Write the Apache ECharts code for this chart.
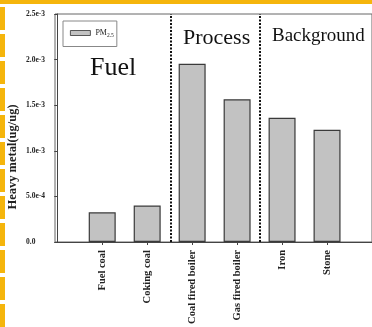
<!DOCTYPE html>
<html>
<head>
<meta charset="utf-8">
<script src="https://cdn.jsdelivr.net/npm/echarts@6/dist/echarts.min.js"></script>
<style>
  html, body { margin: 0; padding: 0; background: #fff; }
  #chart { width: 372px; height: 327px; }
</style>
</head>
<body>
<div id="chart"></div>
<script>
// Source categories, in plotting order
var categories = ['Fuel coal', 'Coking coal', 'Coal fired boiler', 'Gas fired boiler', 'Iron', 'Stone'];
// PM2.5 heavy metal content (ug/ug)
var pm25 = [3.25e-4, 4.0e-4, 1.955e-3, 1.565e-3, 1.363e-3, 1.231e-3];
// Group separators sit between neighbouring categories
var groupBreaks = [2.53, 4.5];
var groupNames = ['Fuel', 'Process', 'Background'];
var yTicks = [0, 5e-4, 1e-3, 1.5e-3, 2e-3, 2.5e-3];

var serif = '"Liberation Serif", "DejaVu Serif", serif';
var chart = echarts.init(document.getElementById('chart'), null, { renderer: 'canvas' });

// categories are placed at x = 1..n on a value axis so separators can fall between them
var barData = pm25.map(function (v, i) { return [i + 1, v]; });
var positions = categories.map(function (c, i) { return i + 1; });

// decorative frame: yellow strip along the top, dashed strip down the left edge
var frame = [{ type: 'rect', shape: { x: 0, y: 0, width: 372, height: 4 }, style: { fill: '#f5b50c' }, silent: true }];
for (var y = 7; y < 327; y += 27) {
  frame.push({ type: 'rect', shape: { x: 0, y: y, width: 5, height: 23 }, style: { fill: '#f5b50c' }, silent: true });
}
frame.push(
  { type: 'text', left: 90, top: 55, style: { text: groupNames[0], font: '26px ' + serif, fill: '#111' } },
  { type: 'text', left: 183, top: 27, style: { text: groupNames[1], font: '22px ' + serif, fill: '#111' } },
  { type: 'text', left: 272, top: 27, style: { text: groupNames[2], font: '19px ' + serif, fill: '#111' } },
  // vertical axis title
  {
    type: 'text', x: 13, y: 157, rotation: Math.PI / 2,
    style: {
      text: 'Heavy metal(ug/ug)', font: 'bold 12.5px ' + serif, fill: '#222',
      align: 'center', verticalAlign: 'middle'
    }
  }
);

chart.setOption({
  animation: false,
  backgroundColor: '#fff',
  grid: { left: 55, top: 14, right: -2, bottom: 85, show: true, borderColor: '#666', borderWidth: 1 },
  legend: {
    left: 63, top: 21,
    padding: [8, 3, 8, 7],
    borderColor: '#888', borderWidth: 1, backgroundColor: '#fff',
    itemWidth: 20, itemHeight: 5,
    icon: 'rect',
    itemStyle: { borderWidth: 0.8, borderColor: '#333' },
    data: ['PM2.5'],
    formatter: function () { return '{m|PM}{s|2.5}'; },
    textStyle: {
      color: '#222',
      rich: {
        m: { fontFamily: serif, fontSize: 8, color: '#222' },
        s: { fontFamily: serif, fontSize: 5.5, color: '#222', padding: [5, 0, 0, 0] }
      }
    }
  },
  xAxis: {
    type: 'value', min: -0.05, max: categories.length + 1,
    splitLine: { show: false },
    axisLine: { lineStyle: { color: '#444' } },
    axisTick: { show: true, length: 3, customValues: positions, lineStyle: { color: '#444' } },
    axisLabel: {
      customValues: positions,
      rotate: 90, margin: 8,
      fontFamily: serif, fontSize: 10.5, fontWeight: 'bold', color: '#222',
      formatter: function (v) { return categories[Math.round(v) - 1] || ''; }
    }
  },
  yAxis: {
    type: 'value', min: yTicks[0], max: yTicks[yTicks.length - 1], interval: yTicks[1] - yTicks[0],
    splitLine: { show: false },
    axisLine: { show: true, lineStyle: { color: '#444' } },
    axisTick: { show: true, length: 3, lineStyle: { color: '#444' } },
    axisLabel: {
      align: 'left', margin: 29,
      fontFamily: serif, fontSize: 7.5, fontWeight: 'bold', color: '#222',
      formatter: function (v) { return v === 0 ? '0.0' : v.toExponential(1); }
    }
  },
  series: [{
    name: 'PM2.5',
    type: 'bar',
    barWidth: 27,
    data: barData,
    itemStyle: { color: '#c2c2c2', borderColor: '#3a3a3a', borderWidth: 1.2 },
    markLine: {
      silent: true,
      symbol: 'none',
      label: { show: false },
      lineStyle: { color: '#111', type: [2, 1.5], width: 2 },
      data: groupBreaks.map(function (b) { return { xAxis: b }; })
    }
  }],
  graphic: frame
});
</script>
</body>
</html>
